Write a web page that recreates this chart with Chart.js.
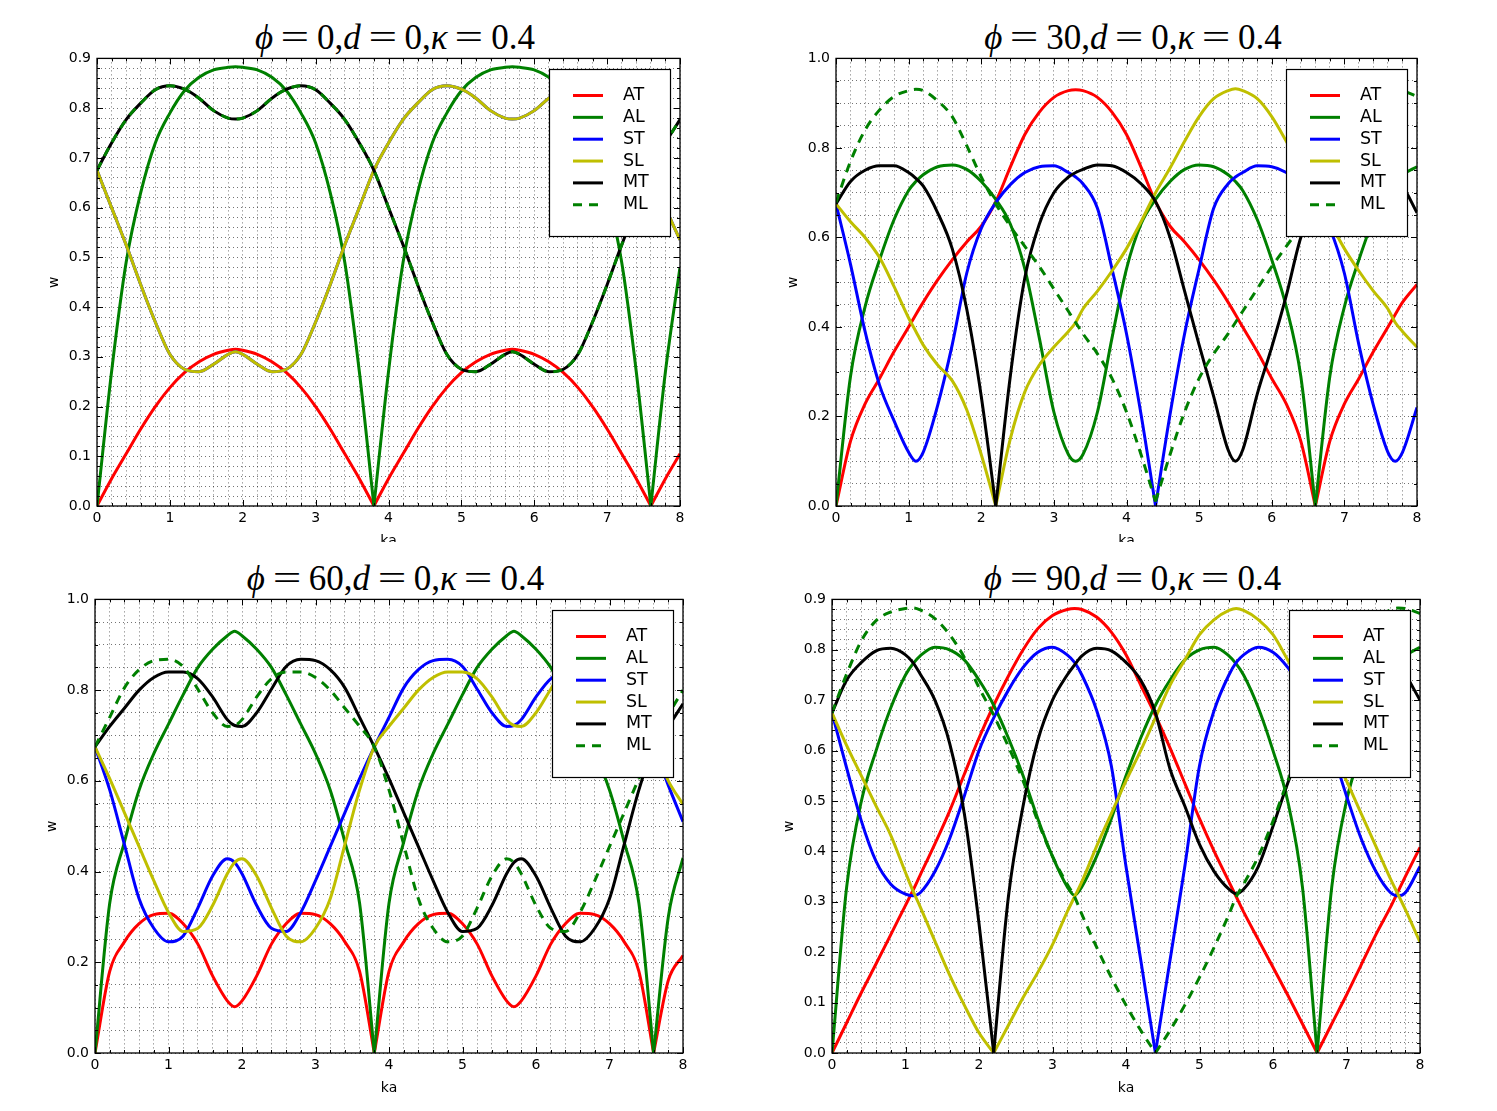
<!DOCTYPE html>
<html><head><meta charset="utf-8"><title>w vs ka</title>
<script src="https://cdn.jsdelivr.net/npm/chart.js@4.4.1/dist/chart.umd.min.js"></script>
<style>
html,body{margin:0;padding:0;background:#fff}
body{position:relative;width:1497px;height:1111px;overflow:hidden}
.wrap{position:absolute;overflow:hidden}
.wrap canvas{position:absolute;left:0;top:0}
.ttl{position:absolute;font-family:"Liberation Serif","DejaVu Serif",serif;font-size:35px;line-height:35px;white-space:nowrap;transform:translateX(-50%);color:#000}
.ttl i{font-style:italic}
.ttl .eq{display:inline-block;margin:0 12px;transform:scaleX(1.45)}
</style></head><body>
<script>
// ---- series meta ----
const seriesNames = ['AT','AL','ST','SL','MT','ML'];
const seriesColors = ['#ff0000','#008000','#0000ff','#bfbf00','#000000','#008000'];
const seriesDash = [[],[],[],[],[],[9,7]];

// ---- titles / axes ----
const phiValues = [0,30,60,90];
const dValue = 0, kappaValue = 0.4;
const yMaxes = [0.9,1.0,1.0,0.9];
const yMajors = [0.1,0.2,0.2,0.1];
const yMinors = [0.02,0.05,0.05,0.02];
const xMin = 0, xMax = 8, xMajor = 1, xMinor = 0.2;

// ---- ka samples ----
const kaA = [0,0.2,0.4,0.6,0.8,1,1.2,1.4,1.6,1.8,1.9,2,2.2,2.4,2.6,2.8,3,3.2,3.4,3.6,3.8,4,4.2,4.4,4.6,4.8,5,5.2,5.4,5.6,5.7,5.8,6,6.2,6.4,6.6,6.8,7,7.2,7.4,7.6,7.8,8];
const kaB = [0,0.2,0.4,0.6,0.8,1,1.1,1.2,1.4,1.6,1.8,2,2.2,2.4,2.6,2.8,3,3.2,3.3,3.4,3.6,3.8,4,4.2,4.4,4.6,4.8,5,5.2,5.4,5.5,5.6,5.8,6,6.2,6.4,6.6,6.8,7,7.2,7.4,7.6,7.7,7.8,8];

// ---- phi = 0 ----
const p1AT = [0,0.055,0.105,0.155,0.2,0.238,0.268,0.29,0.305,0.313,0.315,0.313,0.305,0.29,0.268,0.238,0.2,0.155,0.105,0.055,0,0.055,0.105,0.155,0.2,0.238,0.268,0.29,0.305,0.313,0.315,0.313,0.305,0.29,0.268,0.238,0.2,0.155,0.105,0.055,0,0.055,0.105];
const p1AL = [0,0.27,0.49,0.63,0.73,0.79,0.835,0.862,0.877,0.882,0.883,0.882,0.877,0.862,0.835,0.79,0.73,0.63,0.49,0.27,0,0.27,0.49,0.63,0.73,0.79,0.835,0.862,0.877,0.882,0.883,0.882,0.877,0.862,0.835,0.79,0.73,0.63,0.49,0.27,0,0.27,0.48];
const p1ST = [0.675,0.6,0.525,0.445,0.37,0.305,0.275,0.27,0.285,0.305,0.31,0.305,0.285,0.27,0.275,0.305,0.37,0.445,0.525,0.6,0.675,0.73,0.777,0.81,0.837,0.845,0.838,0.82,0.795,0.78,0.778,0.78,0.795,0.82,0.838,0.845,0.837,0.81,0.777,0.73,0.675,0.6,0.535];
const p1SL = [0.675,0.6,0.525,0.445,0.37,0.305,0.275,0.27,0.285,0.305,0.31,0.305,0.285,0.27,0.275,0.305,0.37,0.445,0.525,0.6,0.675,0.73,0.777,0.81,0.837,0.845,0.838,0.82,0.795,0.78,0.778,0.78,0.795,0.82,0.838,0.845,0.837,0.81,0.777,0.73,0.675,0.6,0.535];
const p1MT = [0.675,0.73,0.777,0.81,0.837,0.845,0.838,0.82,0.795,0.78,0.778,0.78,0.795,0.82,0.838,0.845,0.837,0.81,0.777,0.73,0.675,0.6,0.525,0.445,0.37,0.305,0.275,0.27,0.285,0.305,0.31,0.305,0.285,0.27,0.275,0.305,0.37,0.445,0.525,0.6,0.675,0.73,0.777];
const p1ML = [0.675,0.73,0.777,0.81,0.837,0.845,0.838,0.82,0.795,0.78,0.778,0.78,0.795,0.82,0.838,0.845,0.837,0.81,0.777,0.73,0.675,0.6,0.525,0.445,0.37,0.305,0.275,0.27,0.285,0.305,0.31,0.305,0.285,0.27,0.275,0.305,0.37,0.445,0.525,0.6,0.675,0.73,0.777];

// ---- phi = 30 ----
const p2AT = [0,0.145,0.228,0.285,0.345,0.4,0.428,0.455,0.505,0.55,0.59,0.625,0.68,0.757,0.83,0.88,0.913,0.928,0.93,0.928,0.913,0.88,0.83,0.757,0.68,0.625,0.59,0.55,0.505,0.455,0.428,0.4,0.345,0.285,0.228,0.145,0,0.145,0.228,0.285,0.345,0.4,0.428,0.455,0.495];
const p2AL = [0,0.29,0.445,0.55,0.64,0.705,0.725,0.74,0.758,0.762,0.752,0.725,0.685,0.63,0.53,0.375,0.21,0.115,0.1,0.115,0.21,0.375,0.53,0.63,0.685,0.725,0.752,0.762,0.758,0.74,0.725,0.705,0.64,0.55,0.445,0.29,0,0.29,0.445,0.55,0.64,0.705,0.725,0.74,0.758];
const p2ST = [0.675,0.54,0.39,0.27,0.19,0.12,0.1,0.12,0.225,0.36,0.52,0.62,0.678,0.718,0.745,0.758,0.76,0.745,0.735,0.72,0.665,0.53,0.385,0.205,0,0.205,0.385,0.53,0.665,0.72,0.735,0.745,0.76,0.758,0.745,0.718,0.678,0.62,0.52,0.36,0.225,0.12,0.1,0.12,0.22];
const p2SL = [0.675,0.635,0.6,0.555,0.49,0.42,0.39,0.36,0.315,0.28,0.215,0.115,0,0.15,0.255,0.315,0.355,0.39,0.41,0.44,0.48,0.525,0.575,0.635,0.7,0.755,0.815,0.87,0.91,0.928,0.932,0.928,0.91,0.87,0.815,0.755,0.7,0.635,0.575,0.525,0.48,0.44,0.41,0.39,0.355];
const p2MT = [0.675,0.725,0.75,0.76,0.76,0.745,0.732,0.715,0.655,0.575,0.44,0.245,0,0.29,0.51,0.63,0.7,0.735,0.745,0.752,0.762,0.76,0.745,0.72,0.68,0.6,0.48,0.36,0.245,0.125,0.1,0.125,0.25,0.355,0.47,0.6,0.675,0.725,0.75,0.76,0.76,0.745,0.732,0.715,0.655];
const p2ML = [0.678,0.77,0.84,0.885,0.915,0.928,0.931,0.928,0.905,0.87,0.805,0.735,0.675,0.625,0.58,0.535,0.485,0.435,0.41,0.385,0.34,0.285,0.21,0.115,0.01,0.115,0.21,0.285,0.34,0.385,0.41,0.435,0.485,0.535,0.58,0.625,0.675,0.735,0.805,0.87,0.905,0.928,0.931,0.928,0.915];

// ---- phi = 60 ----
const p3AT = [0,0.18,0.245,0.285,0.305,0.308,0.285,0.24,0.17,0.115,0.102,0.115,0.17,0.24,0.285,0.308,0.305,0.285,0.245,0.18,0,0.18,0.245,0.285,0.305,0.308,0.285,0.24,0.17,0.115,0.102,0.115,0.17,0.24,0.285,0.308,0.305,0.285,0.245,0.18,0,0.16,0.215];
const p3AL = [0,0.33,0.465,0.58,0.66,0.725,0.79,0.85,0.89,0.92,0.93,0.92,0.89,0.85,0.79,0.725,0.66,0.58,0.465,0.33,0,0.33,0.465,0.58,0.66,0.725,0.79,0.85,0.89,0.92,0.93,0.92,0.89,0.85,0.79,0.725,0.66,0.58,0.465,0.33,0,0.3,0.43];
const p3ST = [0.675,0.58,0.46,0.34,0.275,0.245,0.258,0.32,0.39,0.428,0.42,0.395,0.325,0.275,0.268,0.31,0.38,0.455,0.53,0.605,0.675,0.74,0.805,0.845,0.865,0.868,0.852,0.802,0.75,0.72,0.722,0.735,0.785,0.825,0.84,0.84,0.828,0.8,0.76,0.72,0.675,0.59,0.51];
const p3SL = [0.675,0.605,0.53,0.455,0.38,0.31,0.268,0.275,0.325,0.395,0.42,0.428,0.39,0.32,0.258,0.245,0.275,0.34,0.46,0.58,0.675,0.72,0.76,0.8,0.828,0.84,0.84,0.825,0.785,0.735,0.722,0.72,0.75,0.802,0.852,0.868,0.865,0.845,0.805,0.74,0.675,0.6,0.548];
const p3MT = [0.675,0.72,0.76,0.8,0.828,0.84,0.84,0.825,0.785,0.735,0.722,0.72,0.75,0.802,0.852,0.868,0.865,0.845,0.805,0.74,0.675,0.605,0.53,0.455,0.38,0.31,0.268,0.275,0.325,0.395,0.42,0.428,0.39,0.32,0.258,0.245,0.275,0.34,0.46,0.58,0.675,0.72,0.77];
const p3ML = [0.675,0.74,0.805,0.845,0.865,0.868,0.852,0.802,0.75,0.72,0.722,0.735,0.785,0.825,0.84,0.84,0.828,0.8,0.76,0.72,0.675,0.58,0.46,0.34,0.275,0.245,0.258,0.32,0.39,0.428,0.42,0.395,0.325,0.275,0.268,0.31,0.38,0.455,0.53,0.605,0.675,0.745,0.8];

// ---- phi = 90 ----
const p4AT = [0,0.06,0.12,0.177,0.235,0.293,0.322,0.353,0.415,0.48,0.553,0.625,0.69,0.748,0.8,0.842,0.868,0.88,0.882,0.88,0.865,0.835,0.79,0.73,0.67,0.605,0.535,0.465,0.4,0.34,0.31,0.28,0.225,0.17,0.115,0.058,0,0.058,0.115,0.175,0.235,0.29,0.32,0.35,0.408];
const p4AL = [0,0.33,0.5,0.6,0.685,0.75,0.772,0.788,0.805,0.8,0.78,0.74,0.69,0.625,0.55,0.465,0.39,0.33,0.313,0.33,0.39,0.465,0.55,0.625,0.69,0.74,0.78,0.8,0.805,0.788,0.772,0.75,0.685,0.6,0.5,0.33,0,0.33,0.5,0.6,0.685,0.75,0.772,0.788,0.805];
const p4ST = [0.675,0.565,0.46,0.38,0.335,0.315,0.312,0.318,0.36,0.425,0.51,0.6,0.665,0.72,0.765,0.795,0.805,0.79,0.775,0.75,0.68,0.57,0.37,0.185,0,0.185,0.37,0.57,0.68,0.75,0.775,0.79,0.805,0.795,0.765,0.72,0.665,0.6,0.51,0.425,0.36,0.318,0.312,0.318,0.37];
const p4SL = [0.675,0.61,0.55,0.49,0.432,0.358,0.322,0.29,0.222,0.155,0.095,0.04,0,0.055,0.11,0.16,0.215,0.28,0.31,0.34,0.41,0.475,0.54,0.6,0.665,0.73,0.78,0.83,0.86,0.878,0.882,0.878,0.86,0.83,0.78,0.73,0.665,0.6,0.54,0.475,0.41,0.345,0.315,0.285,0.22];
const p4MT = [0.675,0.74,0.775,0.798,0.803,0.79,0.775,0.752,0.7,0.615,0.475,0.257,0,0.31,0.49,0.62,0.7,0.75,0.77,0.788,0.803,0.798,0.775,0.74,0.675,0.563,0.49,0.414,0.36,0.325,0.316,0.325,0.37,0.45,0.535,0.61,0.675,0.74,0.775,0.798,0.803,0.79,0.775,0.752,0.7];
const p4ML = [0.675,0.752,0.818,0.858,0.875,0.882,0.883,0.879,0.862,0.83,0.785,0.725,0.67,0.608,0.54,0.46,0.39,0.335,0.31,0.275,0.21,0.15,0.095,0.045,0,0.045,0.095,0.15,0.21,0.275,0.31,0.335,0.39,0.46,0.54,0.608,0.67,0.725,0.785,0.83,0.862,0.879,0.883,0.882,0.872];

// ---- page layout (plot-area boxes in page pixels) ----
const boxes = [
  {L:97,  T:56,  R:680,  B:506,  clip:542},
  {L:836, T:56,  R:1417, B:506,  clip:542},
  {L:95,  T:597, R:683,  B:1053, clip:1111},
  {L:832, T:597, R:1420, B:1053, clip:1111}
];
const panelKa = [kaA, kaB, kaA, kaB];
const panelSeries = [
  [p1AT,p1AL,p1ST,p1SL,p1MT,p1ML],
  [p2AT,p2AL,p2ST,p2SL,p2MT,p2ML],
  [p3AT,p3AL,p3ST,p3SL,p3MT,p3ML],
  [p4AT,p4AL,p4ST,p4SL,p4MT,p4ML]
];

function isMajor(v, m){ const r = v / m; return Math.abs(r - Math.round(r)) < 1e-6; }

const framePlugin = {
  id: 'frameTicks',
  afterDatasetsDraw(chart, args, opts) {
    const {ctx, chartArea: a, scales} = chart;
    const xs = scales.x, ys = scales.y;
    ctx.save();
    ctx.strokeStyle = '#000';
    ctx.lineWidth = 1;
    ctx.beginPath();
    xs.ticks.forEach(t => {
      const p = Math.round(xs.getPixelForValue(t.value)) + 0.5;
      const len = isMajor(t.value, xMajor) ? 6 : 3;
      ctx.moveTo(p, a.bottom); ctx.lineTo(p, a.bottom - len);
      ctx.moveTo(p, a.top); ctx.lineTo(p, a.top + len);
    });
    ys.ticks.forEach(t => {
      const p = Math.round(ys.getPixelForValue(t.value)) + 0.5;
      const len = isMajor(t.value, opts.major) ? 6 : 3;
      ctx.moveTo(a.left, p); ctx.lineTo(a.left + len, p);
      ctx.moveTo(a.right, p); ctx.lineTo(a.right - len, p);
    });
    ctx.stroke();
    ctx.lineWidth = 1.3;
    ctx.strokeRect(a.left, a.top, a.right - a.left, a.bottom - a.top);
    ctx.restore();
  }
};

const legendPlugin = {
  id: 'boxLegend',
  afterDraw(chart) {
    const {ctx, chartArea: a} = chart;
    const w = 121, h = 167;
    const bx = Math.round(a.right - 10 - w), by = Math.round(a.top + 11);
    ctx.save();
    ctx.fillStyle = '#fff';
    ctx.fillRect(bx, by, w, h);
    ctx.strokeStyle = '#000';
    ctx.lineWidth = 1.2;
    ctx.strokeRect(bx + 0.5, by + 0.5, w, h);
    ctx.font = '17.5px "DejaVu Sans"';
    ctx.textBaseline = 'middle';
    seriesNames.forEach((n, i) => {
      const yy = by + 26.5 + i * 21.85;
      ctx.strokeStyle = seriesColors[i];
      ctx.lineWidth = 3;
      ctx.lineCap = 'butt';
      ctx.setLineDash(seriesDash[i]);
      ctx.beginPath(); ctx.moveTo(bx + 24, yy); ctx.lineTo(bx + 54, yy); ctx.stroke();
      ctx.setLineDash([]);
      ctx.fillStyle = '#000';
      ctx.fillText(n, bx + 74, yy);
    });
    ctx.restore();
  }
};

const tickFont = {family: 'DejaVu Sans', size: 14};

panelSeries.forEach((series, k) => {
  const b = boxes[k], ka = panelKa[k];
  const cl = b.L - 97, ct = b.T - 12;
  const cw = b.R - b.L + 127, ch = b.B - b.T + 58;

  // title (real text)
  const t = document.createElement('div');
  t.className = 'ttl';
  t.style.left = ((b.L + b.R) / 2 + 6.5) + 'px';
  t.style.top = (b.T - 36.5) + 'px';
  t.innerHTML = '<i>\u03D5</i><span class="eq">=</span>' + phiValues[k] + ',<i>d</i><span class="eq">=</span>' + dValue + ',<i>\u03BA</i><span class="eq">=</span>' + kappaValue;
  document.body.appendChild(t);

  const wrap = document.createElement('div');
  wrap.className = 'wrap';
  wrap.style.left = cl + 'px';
  wrap.style.top = ct + 'px';
  wrap.style.width = cw + 'px';
  wrap.style.height = Math.min(ch, b.clip - ct) + 'px';
  const cv = document.createElement('canvas');
  cv.width = cw; cv.height = ch;
  cv.style.width = cw + 'px'; cv.style.height = ch + 'px';
  wrap.appendChild(cv);
  document.body.appendChild(wrap);

  const datasets = [];
  series.forEach((ys, s) => {
    if (ys.length !== ka.length) throw new Error('panel ' + k + ' ' + seriesNames[s] + ' has ' + ys.length + ' values, expected ' + ka.length);
    let start = 0;
    for (let i = 1; i < ys.length; i++) {
      if (i === ys.length - 1 || ys[i] <= 0.02) {
        const pts = [];
        for (let j = start; j <= i; j++) pts.push({x: ka[j], y: ys[j]});
        datasets.push({
          label: seriesNames[s], data: pts,
          borderColor: seriesColors[s], backgroundColor: seriesColors[s],
          borderWidth: 3, borderDash: seriesDash[s], borderCapStyle: 'butt', borderJoinStyle: 'round',
          pointRadius: 0, pointHoverRadius: 0, fill: false,
          cubicInterpolationMode: 'monotone', order: 5 - s
        });
        start = i;
      }
    }
  });

  new Chart(cv, {
    type: 'line',
    data: {datasets},
    options: {
      responsive: false, animation: false, devicePixelRatio: 1, events: [],
      layout: {padding: {left: 40, top: 12, right: 30, bottom: 0}},
      plugins: {legend: {display: false}, tooltip: {enabled: false}, title: {display: false}, frameTicks: {major: yMajors[k]}},
      scales: {
        x: {
          type: 'linear', min: xMin, max: xMax,
          afterFit: (s) => { s.height = 46; },
          ticks: {stepSize: xMinor, autoSkip: false, maxRotation: 0, minRotation: 0, maxTicksLimit: 1000, padding: 4, color: '#000', font: tickFont,
                  callback: (v) => isMajor(v, xMajor) ? String(Math.round(v)) : ''},
          grid: {color: 'rgba(0,0,0,0.55)', lineWidth: 1, drawTicks: false},
          border: {display: false, dash: [1, 3]},
          title: {display: true, text: 'ka', color: '#000', font: tickFont, padding: {top: 0, bottom: 2.6}}
        },
        y: {
          type: 'linear', min: 0, max: yMaxes[k],
          afterFit: (s) => { s.width = 57; },
          ticks: {stepSize: yMinors[k], autoSkip: false, maxTicksLimit: 1000, padding: 6, color: '#000', font: tickFont,
                  callback: (v) => isMajor(v, yMajors[k]) ? (Math.round(v / yMajors[k]) * yMajors[k]).toFixed(1) : ''},
          grid: {color: 'rgba(0,0,0,0.55)', lineWidth: 1, drawTicks: false},
          border: {display: false, dash: [1, 3]},
          title: {display: true, text: 'w', color: '#000', font: tickFont, padding: {top: 6, bottom: 0}}
        }
      }
    },
    plugins: [framePlugin, legendPlugin]
  });
});
</script>
</body></html>
